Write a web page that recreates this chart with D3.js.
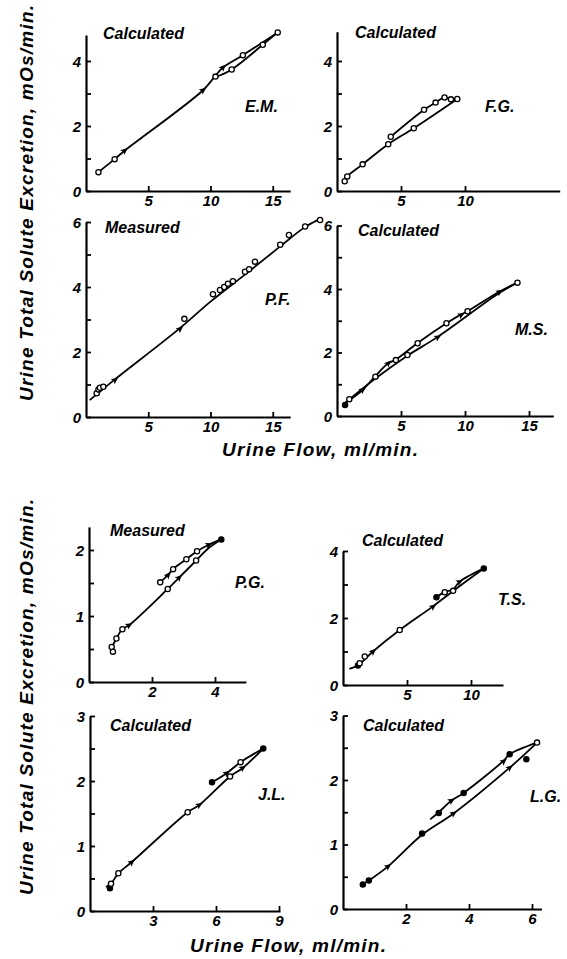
<!DOCTYPE html>
<html>
<head>
<meta charset="utf-8">
<script src="https://cdn.jsdelivr.net/npm/d3@7/dist/d3.min.js"></script>
<style>
  body { margin: 0; background: #fff; }
  text { font-family: "Liberation Sans", Arial, sans-serif; font-weight: bold; font-style: italic; fill: #000; }
  .tick text { font-size: 15px; }
  .note { font-size: 16px; }
  .title { font-size: 19px; }
</style>
</head>
<body>
<div id="chart"></div>
<script>

// ---- data (x = urine flow ml/min, y = solute excretion mOs/min)
// marks: [x, y, type]  o = open circle, f = filled circle, a = arrow

var emUp    = [[1.0,0.58],[2.3,0.98],[3.1,1.24],[9.4,3.1],[10.4,3.55],[11.0,3.8],[12.6,4.18],[15.4,4.88]];
var emDown  = [[15.4,4.88],[14.2,4.5],[11.7,3.74],[10.4,3.5]];
var emMarks = [[1.0,0.58,'o'],[2.3,0.98,'o'],[3.1,1.24,'a'],[9.4,3.1,'a'],[10.4,3.52,'o'],[11.0,3.8,'a'],
               [11.7,3.74,'o'],[12.6,4.18,'o'],[14.2,4.5,'o'],[15.4,4.88,'o']];

var fgUp    = [[0.6,0.3],[0.8,0.45],[2.0,0.82],[4.0,1.44],[6.0,1.93],[9.4,2.83]];
var fgDown  = [[9.4,2.83],[8.9,2.82],[8.4,2.88],[7.7,2.72],[6.8,2.5],[4.2,1.67]];
var fgMarks = [[0.6,0.3,'o'],[0.8,0.45,'o'],[2.0,0.82,'o'],[4.0,1.44,'o'],[6.0,1.93,'o'],[9.4,2.83,'o'],
               [8.9,2.82,'o'],[8.4,2.88,'o'],[7.7,2.72,'o'],[6.8,2.5,'o'],[4.2,1.67,'o']];

var pfLine  = [[0.3,0.52],[2.3,1.15],[7.5,2.72],[10,3.55],[13,4.45],[15.6,5.25],[17.6,5.85],[18.3,6.0],[18.7,6.08]];
var pfMarks = [[0.86,0.73,'o'],[1.0,0.85,'o'],[1.12,0.9,'o'],[1.39,0.93,'o'],[2.33,1.14,'a'],[7.55,2.71,'a'],
               [7.9,3.02,'o'],[10.2,3.78,'o'],[10.76,3.91,'o'],[11.1,4.0,'o'],[11.4,4.1,'o'],[11.8,4.18,'o'],
               [12.77,4.47,'o'],[13.1,4.55,'o'],[13.57,4.78,'o'],[15.6,5.3,'o'],[16.3,5.6,'o'],[17.6,5.86,'o'],[18.8,6.06,'o']];

var msUp    = [[0.6,0.4],[2.0,0.82],[3.0,1.26],[4.0,1.66],[4.6,1.78],[6.3,2.3],[8.55,2.92],[9.7,3.2],[10.2,3.3],[12.7,3.92],[14.1,4.2]];
var msDown  = [[14.1,4.2],[12.7,3.88],[7.9,2.5],[5.5,1.9],[3.0,1.18],[0.6,0.4]];
var msMarks = [[0.63,0.35,'f'],[0.96,0.53,'o'],[2.0,0.82,'a'],[3.0,1.24,'o'],[4.0,1.66,'a'],[4.6,1.76,'o'],
               [5.5,1.92,'o'],[6.3,2.29,'o'],[7.87,2.48,'a'],[8.55,2.92,'o'],[9.7,3.18,'a'],[10.2,3.3,'o'],
               [12.7,3.91,'a'],[14.1,4.2,'o']];

var pgUp    = [[0.7,0.5],[0.87,0.66],[1.06,0.8],[1.27,0.86],[2.5,1.41],[2.86,1.58],[3.4,1.84],[3.8,2.03],[4.2,2.16]];
var pgDown  = [[4.2,2.16],[3.8,2.08],[3.43,1.98],[3.09,1.86],[2.67,1.71],[2.5,1.62],[2.26,1.51]];
var pgMarks = [[0.72,0.53,'o'],[0.76,0.46,'o'],[0.87,0.66,'o'],[1.06,0.8,'o'],[1.27,0.86,'a'],[2.5,1.41,'o'],
               [2.86,1.58,'a'],[3.4,1.84,'o'],[3.8,2.08,'a'],[4.2,2.16,'f'],[2.26,1.51,'o'],[2.51,1.62,'a'],
               [2.67,1.71,'o'],[3.09,1.86,'o'],[3.43,1.98,'o']];

var tsUp    = [[0.5,0.48],[1.2,0.6],[2.34,1.0],[4.43,1.64],[7.0,2.34],[9.1,2.95],[11.0,3.48]];
var tsDown  = [[11.0,3.48],[9.1,3.08],[8.6,2.85],[7.95,2.78],[7.3,2.62]];
var tsMarks = [[1.17,0.58,'f'],[1.3,0.65,'o'],[1.7,0.85,'o'],[2.34,1.0,'a'],[4.43,1.64,'o'],[7.03,2.34,'a'],
               [7.3,2.62,'f'],[7.95,2.77,'o'],[8.6,2.81,'o'],[9.1,3.08,'a'],[11.0,3.48,'f']];

var jlUp    = [[0.76,0.37],[1.0,0.42],[1.35,0.58],[1.98,0.75],[4.65,1.52],[5.2,1.63],[6.67,2.07],[7.27,2.2],[8.25,2.5]];
var jlDown  = [[8.25,2.5],[7.17,2.29],[6.51,2.12],[5.81,1.98]];
var jlMarks = [[0.95,0.35,'f'],[1.0,0.42,'o'],[1.35,0.58,'o'],[1.98,0.75,'a'],[4.65,1.52,'o'],[5.2,1.63,'a'],
               [5.81,1.98,'f'],[6.51,2.12,'a'],[6.67,2.07,'o'],[7.17,2.29,'o'],[7.27,2.2,'a'],[8.25,2.5,'f']];

var lgUp    = [[0.63,0.38],[0.82,0.44],[1.43,0.66],[2.51,1.15],[3.51,1.48],[5.29,2.19],[6.16,2.58]];
var lgDown  = [[6.16,2.58],[5.29,2.4],[5.1,2.3],[3.83,1.8],[3.44,1.68],[3.04,1.5],[2.77,1.39]];
var lgMarks = [[0.63,0.38,'f'],[0.82,0.44,'f'],[1.43,0.66,'a'],[2.51,1.17,'f'],[3.51,1.48,'a'],[5.29,2.19,'a'],
               [5.82,2.32,'f'],[6.16,2.58,'o'],[5.29,2.4,'f'],[5.1,2.29,'a'],[3.83,1.8,'f'],[3.44,1.68,'a'],[3.04,1.49,'f']];

var subjects = ['E.M.', 'F.G.', 'P.F.', 'M.S.', 'P.G.', 'T.S.', 'J.L.', 'L.G.'];
var methods  = ['Calculated', 'Calculated', 'Measured', 'Calculated', 'Measured', 'Calculated', 'Calculated', 'Calculated'];
var xTickVals = [[5,10,15], [5,10], [5,10,15], [5,10,15], [2,4], [5,10], [3,6,9], [2,4,6]];
var yTickVals = [[0,1,2,3,4], [0,1,2,3,4], [0,1,2,3,4,5,6], [0,1,2,3,4,5,6],
                 [0,0.5,1,1.5,2], [0,1,2,3,4], [0,0.5,1,1.5,2,2.5,3], [0,0.5,1,1.5,2,2.5,3]];
var yTickLabels = [[0,2,4], [0,2,4], [0,2,4,6], [0,2,4,6], [0,1,2], [0,2,4], [0,1,2,3], [0,1,2,3]];
var seriesLines = [[emUp, emDown], [fgUp, fgDown], [pfLine], [msUp, msDown],
                   [pgUp, pgDown], [tsUp, tsDown], [jlUp, jlDown], [lgUp, lgDown]];
var seriesMarks = [emMarks, fgMarks, pfMarks, msMarks, pgMarks, tsMarks, jlMarks, lgMarks];

var xTitle = 'Urine Flow, ml/min.';
var yTitle = 'Urine Total Solute Excretion, mOs/min.';

// ---- layout (pixels)
// left/bottom = axis corner, kx/ky = px per unit, xMax/yMax = axis extents in data units
var layout = [
  {left: 86,  bottom: 191, kx: 12.45, ky: 32.5,  xMax: 16.4, yMax: 4.8,  note: [103, 39],  name: [245, 112]},
  {left: 337, bottom: 191, kx: 12.8,  ky: 32.5,  xMax: 17.4, yMax: 4.9,  note: [355, 38],  name: [485, 112]},
  {left: 86,  bottom: 417, kx: 12.45, ky: 32.5,  xMax: 16.4, yMax: 6,    note: [105, 233], name: [265, 305]},
  {left: 337, bottom: 416, kx: 12.8,  ky: 31.75, xMax: 16.9, yMax: 6,    note: [358, 236], name: [515, 335]},
  {left: 89,  bottom: 682, kx: 31.5,  ky: 66,    xMax: 4.98, yMax: 2.35, note: [110, 536], name: [235, 588]},
  {left: 343, bottom: 685, kx: 12.8,  ky: 33.5,  xMax: 12.5, yMax: 4,    note: [362, 546], name: [498, 605]},
  {left: 90,  bottom: 911, kx: 21,    ky: 65,    xMax: 9.05, yMax: 3,    note: [110, 731], name: [258, 800]},
  {left: 343, bottom: 909, kx: 31.5,  ky: 64.5,  xMax: 6.3,  yMax: 3,    note: [363, 731], name: [530, 802]}
];

var svg = d3.select('#chart')
  .append('svg')
  .attr('width', 567)
  .attr('height', 959);

var line = d3.line()
  .x(function(d) { return d.px; })
  .y(function(d) { return d.py; })
  .curve(d3.curveCatmullRom.alpha(0.5));

// direction of the nearest segment, used to turn the arrow heads
function arrowAngle(pt, lines) {
  var best = null, bestD = Infinity;
  lines.forEach(function(l) {
    for (var i = 0; i < l.length - 1; i++) {
      var a = l[i], b = l[i + 1];
      var dx = b.px - a.px, dy = b.py - a.py;
      var t = ((pt[0] - a.px) * dx + (pt[1] - a.py) * dy) / (dx * dx + dy * dy);
      t = Math.max(0, Math.min(1, t));
      var ex = a.px + t * dx - pt[0], ey = a.py + t * dy - pt[1];
      var dd = ex * ex + ey * ey;
      if (dd < bestD) { bestD = dd; best = [dx, dy]; }
    }
  });
  if (best[0] < 0) { best = [-best[0], -best[1]]; }
  return Math.atan2(best[1], best[0]) * 180 / Math.PI;
}

layout.forEach(function(p, i) {
  var x = d3.scaleLinear().domain([0, p.xMax]).range([p.left, p.left + p.xMax * p.kx]);
  var y = d3.scaleLinear().domain([0, p.yMax]).range([p.bottom, p.bottom - p.yMax * p.ky]);

  var g = svg.append('g').attr('class', 'panel');

  var labels = yTickLabels[i];
  var yAxis = d3.axisLeft(y)
    .tickValues(yTickVals[i])
    .tickSizeInner(-5)
    .tickSizeOuter(0)
    .tickPadding(5)
    .tickFormat(function(v) { return labels.indexOf(v) >= 0 ? d3.format('d')(v) : ''; });

  var xAxis = d3.axisBottom(x)
    .tickValues(xTickVals[i])
    .tickSizeInner(-5)
    .tickSizeOuter(0)
    .tickPadding(4)
    .tickFormat(d3.format('d'));

  var ya = g.append('g')
    .attr('transform', 'translate(' + p.left + ',0)')
    .call(yAxis);
  ya.select('.domain').attr('stroke-width', 2.2);
  ya.selectAll('.tick line').attr('stroke-width', 1.8);
  ya.selectAll('.tick text').attr('dy', '0.36em');

  var xa = g.append('g')
    .attr('transform', 'translate(0,' + p.bottom + ')')
    .call(xAxis);
  xa.select('.domain').attr('stroke-width', 2.2);
  xa.selectAll('.tick line').attr('stroke-width', 1.8);

  var lines = seriesLines[i].map(function(s) {
    return s.map(function(d) { return {px: x(d[0]), py: y(d[1])}; });
  });

  g.selectAll('path.curve')
    .data(lines)
    .enter()
    .append('path')
    .attr('class', 'curve')
    .attr('d', line)
    .attr('fill', 'none')
    .attr('stroke', '#000')
    .attr('stroke-width', 1.8);

  var marks = seriesMarks[i];

  g.selectAll('circle.pt')
    .data(marks.filter(function(d) { return d[2] !== 'a'; }))
    .enter()
    .append('circle')
    .attr('class', 'pt')
    .attr('cx', function(d) { return x(d[0]); })
    .attr('cy', function(d) { return y(d[1]); })
    .attr('r', 2.6)
    .attr('fill', function(d) { return d[2] === 'f' ? '#000' : '#fff'; })
    .attr('stroke', '#000')
    .attr('stroke-width', 1.3);

  g.selectAll('path.arrow')
    .data(marks.filter(function(d) { return d[2] === 'a'; }))
    .enter()
    .append('path')
    .attr('class', 'arrow')
    .attr('d', 'M4,0L-3,-3.2L-1.5,0L-3,3.2Z')
    .attr('fill', '#000')
    .attr('transform', function(d) {
      var px = x(d[0]), py = y(d[1]);
      return 'translate(' + px + ',' + py + ') rotate(' + arrowAngle([px, py], lines) + ')';
    });

  g.append('text')
    .attr('class', 'note')
    .attr('x', p.note[0])
    .attr('y', p.note[1])
    .text(methods[i]);

  g.append('text')
    .attr('class', 'note')
    .attr('x', p.name[0])
    .attr('y', p.name[1])
    .text(subjects[i]);
});

// axis titles, one set per half of the figure
var halves = [{xt: [320, 456], yt: [33, 203]}, {xt: [288, 952], yt: [33, 697]}];

halves.forEach(function(h) {
  svg.append('text')
    .attr('class', 'title')
    .attr('x', h.xt[0])
    .attr('y', h.xt[1])
    .attr('text-anchor', 'middle')
    .attr('textLength', 196)
    .attr('lengthAdjust', 'spacing')
    .text(xTitle);

  svg.append('text')
    .attr('class', 'title')
    .attr('transform', 'translate(' + h.yt[0] + ',' + h.yt[1] + ') rotate(-90)')
    .attr('text-anchor', 'middle')
    .attr('textLength', 396)
    .attr('lengthAdjust', 'spacing')
    .text(yTitle);
});

</script>
</body>
</html>
